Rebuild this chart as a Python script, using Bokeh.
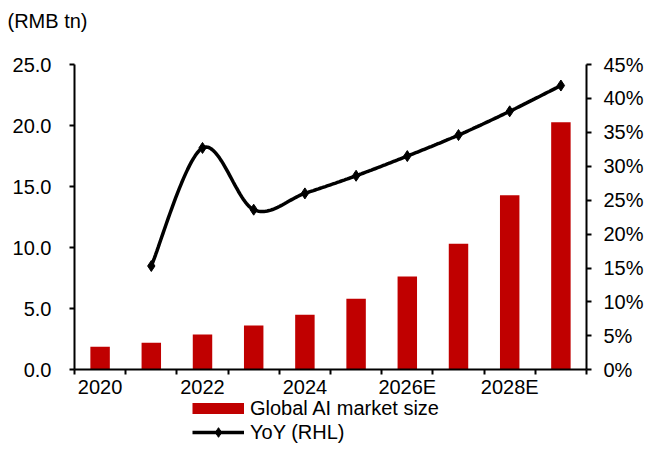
import numpy as np
from bokeh.plotting import figure
from bokeh.models import (Range1d, LinearAxis, FixedTicker, NumeralTickFormatter,
                          PrintfTickFormatter, Legend, LegendItem, ColumnDataSource, Label)
from bokeh.embed import file_html
from bokeh.resources import INLINE

# Global AI market size (RMB tn) and its year-on-year growth (%)
years = ["2020", "2021", "2022", "2023", "2024", "2025E", "2026E", "2027E", "2028E", "2029E"]
market_size = [1.89, 2.21, 2.89, 3.63, 4.51, 5.82, 7.65, 10.33, 14.29, 20.27]
yoy_growth = [None, 15.3, 32.7, 23.6, 26.0, 28.6, 31.5, 34.6, 38.1, 41.9]

FONT = "Liberation Sans"
FS = "20px"
RED = "#C00000"

W, H = 646, 449
# pixel geometry of the plotting area inside the canvas
AX_LEFT, AX_RIGHT, AX_TOP, AX_BOTTOM = 74, 586, 64, 369.3
Y_MAX, P_MAX = 25, 45
n = len(years)
px_x = (AX_RIGHT - AX_LEFT) / n
px_y = (AX_BOTTOM - AX_TOP) / Y_MAX

x_lo, x_hi = -AX_LEFT / px_x, (W - AX_LEFT) / px_x
y_lo, y_hi = -(H - AX_BOTTOM) / px_y, AX_BOTTOM / px_y
ratio = P_MAX / Y_MAX

centers = [i + 0.5 for i in range(n)]


def smooth_curve(xs, ys, steps=30):
    """Cubic Bezier smoothing through every point (Catmull-Rom tangents)."""
    pts = np.column_stack([xs, ys]).astype(float)
    m = len(pts)
    out = [pts[0]]
    t = np.linspace(0, 1, steps + 1)[1:, None]
    for i in range(m - 1):
        p0 = pts[i - 1] if i > 0 else pts[i]
        p1, p2 = pts[i], pts[i + 1]
        p3 = pts[i + 2] if i + 2 < m else pts[i + 1]
        c1 = p1 + (p2 - p0) / 6.0
        c2 = p2 - (p3 - p1) / 6.0
        seg = ((1 - t) ** 3) * p1 + 3 * ((1 - t) ** 2) * t * c1 + 3 * (1 - t) * t ** 2 * c2 + t ** 3 * p2
        out.extend(seg)
    arr = np.array(out)
    return arr[:, 0], arr[:, 1]


p = figure(width=W, height=H, output_backend="svg", toolbar_location=None,
           x_range=Range1d(x_lo, x_hi), y_range=Range1d(y_lo, y_hi),
           min_border=0)
p.extra_y_ranges = {"pct": Range1d(y_lo * ratio, y_hi * ratio)}

p.outline_line_color = None
p.xgrid.grid_line_color = None
p.ygrid.grid_line_color = None
p.background_fill_color = "white"
p.border_fill_color = "white"

# Bars
bar_src = ColumnDataSource(dict(x=centers, top=market_size))
bars = p.vbar(x="x", top="top", bottom=0, width=0.38, source=bar_src,
              fill_color=RED, line_color=None)

# Smoothed YoY line with diamond markers (right axis)
gx = [c for c, v in zip(centers, yoy_growth) if v is not None]
gy = [v for v in yoy_growth if v is not None]
sx, sy = smooth_curve(gx, gy)
line_r = p.line(sx, sy, line_color="black", line_width=3.5, y_range_name="pct")
pts_r = p.scatter(gx, gy, marker="diamond", size=11, fill_color="black", line_color="black",
                  y_range_name="pct")


def style_axis(ax):
    ax.axis_line_color = "black"
    ax.axis_line_width = 2
    ax.major_tick_line_color = "black"
    ax.major_tick_line_width = 2
    ax.major_tick_in = 0
    ax.major_tick_out = 5
    ax.minor_tick_line_color = None
    ax.major_label_text_font = FONT
    ax.major_label_text_font_size = FS
    ax.major_label_text_color = "black"


# Left axis (RMB tn)
yl = p.yaxis[0]
style_axis(yl)
yl.fixed_location = 0
yl.bounds = (0, Y_MAX)
yl.ticker = FixedTicker(ticks=list(range(0, Y_MAX + 1, 5)))
yl.formatter = NumeralTickFormatter(format="0.0")
yl.major_label_standoff = 18

# Right axis (YoY %)
yr = LinearAxis(y_range_name="pct")
style_axis(yr)
yr.fixed_location = n
yr.bounds = (0, P_MAX)
yr.ticker = FixedTicker(ticks=list(range(0, P_MAX + 1, 5)))
yr.formatter = PrintfTickFormatter(format="%d%%")
yr.major_label_standoff = 12
p.add_layout(yr, "right")

# Category axis: labels on every other year, ticks between categories
xa = p.xaxis[0]
style_axis(xa)
xa.fixed_location = 0
xa.bounds = (0, n)
xa.ticker = FixedTicker(ticks=centers[::2], minor_ticks=list(range(n + 1)))
xa.major_label_overrides = {c: y for c, y in zip(centers, years)}
xa.major_tick_out = 0
xa.major_tick_line_color = None
xa.minor_tick_line_color = "black"
xa.minor_tick_line_width = 2
xa.minor_tick_in = 0
xa.minor_tick_out = 5
xa.major_label_standoff = 1

# Unit label
p.add_layout(Label(x=x_lo + 7 / px_x, y=y_hi - 20 / px_y, text="(RMB tn)",
                   text_font=FONT, text_font_size=FS, text_color="black",
                   text_baseline="alphabetic"))

# Legend (bar key drawn as a thick red stroke)
bar_key = p.line(x=[centers[0]], y=[float("nan")], line_color=RED, line_width=11, line_cap="butt")
legend = Legend(items=[
    LegendItem(label="Global AI market size", renderers=[bar_key]),
    LegendItem(label="YoY (RHL)", renderers=[line_r, pts_r]),
], location=(192, 5))
legend.orientation = "vertical"
legend.glyph_width = 52
legend.glyph_height = 24
legend.label_height = 24
legend.spacing = 0
legend.padding = 0
legend.margin = 0
legend.label_standoff = 6
legend.label_text_font = FONT
legend.label_text_font_size = FS
legend.label_text_color = "black"
legend.border_line_color = None
legend.background_fill_alpha = 0
p.add_layout(legend, "center")

open("out.html", "w").write(file_html(p, INLINE))
